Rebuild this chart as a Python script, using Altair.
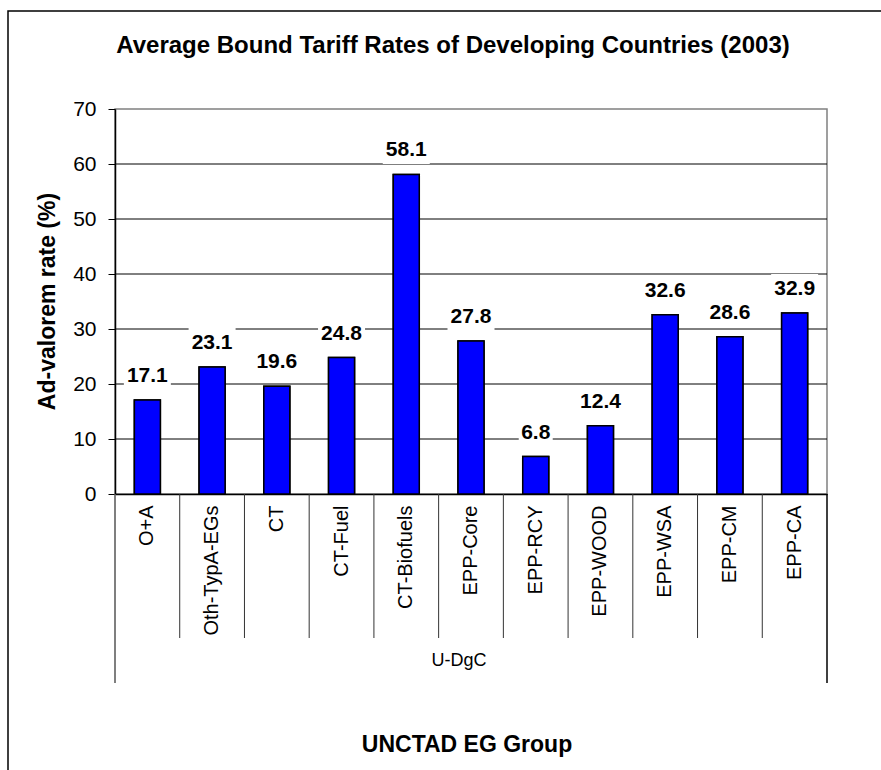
import altair as alt
import pandas as pd

# ---- data ----
categories = ["O+A", "Oth-TypA-EGs", "CT", "CT-Fuel", "CT-Biofuels", "EPP-Core",
              "EPP-RCY", "EPP-WOOD", "EPP-WSA", "EPP-CM", "EPP-CA"]
rates = [17.1, 23.1, 19.6, 24.8, 58.1, 27.8, 6.8, 12.4, 32.6, 28.6, 32.9]
group_label = ["U-DgC"]
y_ticks = [0, 10, 20, 30, 40, 50, 60, 70]
grid_values = [10, 20, 30, 40, 50, 60]

title_text = "Average Bound Tariff Rates of Developing Countries (2003)"
y_title = "Ad-valorem rate (%)"
x_title = "UNCTAD EG Group"

FONT = "Liberation Sans"
W, H = 712, 385
PAD_L, PAD_T = 115, 109

df = pd.DataFrame({"cat": categories, "rate": rates})
df["label"] = df["rate"].map(lambda v: f"{v:.1f}")
df["boxw"] = df["label"].str.len().map(lambda n: (n - 1) * 13 + 8)

yscale = alt.Scale(domain=[0, 70], nice=False, zero=True)
xscale = alt.Scale(domain=categories, paddingInner=0, paddingOuter=0)

x_axis = alt.Axis(labelAngle=270, labelAlign="right", labelBaseline="middle",
                  labelPadding=11, labelFontSize=20, labelFont=FONT, labelColor="black",
                  ticks=False, domainColor="black", domainWidth=1.5, title=None,
                  labelOverlap=False)
y_axis = alt.Axis(values=y_ticks, grid=False, tickSize=7, tickColor="black",
                  labelPadding=12, labelFontSize=21, labelFont=FONT, labelColor="black",
                  domainColor="black", domainWidth=1.5, title=None)

X = alt.X("cat:N", scale=xscale, axis=x_axis, sort=categories)

base = alt.Chart(df)

bars = base.mark_bar(color="#0000FF", stroke="black", strokeWidth=1.5, size=26).encode(
    x=X,
    y=alt.Y("rate:Q", scale=yscale, axis=y_axis),
)

grid = alt.Chart(pd.DataFrame({"v": grid_values})).mark_rule(color="black", strokeWidth=1).encode(
    y=alt.Y("v:Q", scale=yscale, axis=y_axis)
)

boxes = base.transform_calculate(
    lo="datum.rate + 1.9", hi="datum.rate + 7.1"
).mark_bar(color="white").encode(
    x=X,
    y=alt.Y("lo:Q", scale=yscale, axis=y_axis),
    y2="hi:Q",
    size=alt.Size("boxw:Q", scale=None, legend=None),
)

labels = base.mark_text(dy=-18, baseline="alphabetic", fontSize=21, fontWeight="bold",
                        font=FONT, color="black").encode(
    x=X,
    y=alt.Y("rate:Q", scale=yscale, axis=y_axis),
    text="label:N",
)

seps = alt.Chart(pd.DataFrame({"cat": categories[1:]})).mark_rule(color="#333333", strokeWidth=1).encode(
    x=alt.X("cat:N", scale=xscale, axis=x_axis, bandPosition=0, sort=categories),
    y=alt.value(H),
    y2=alt.value(H + 144),
)

edge_l = alt.Chart(pd.DataFrame({"a": [0]})).mark_rule(color="#555555", strokeWidth=1.5).encode(
    x=alt.value(0), y=alt.value(H), y2=alt.value(H + 189)
)
edge_r = alt.Chart(pd.DataFrame({"a": [0]})).mark_rule(color="black", strokeWidth=1.5).encode(
    x=alt.value(W), y=alt.value(H), y2=alt.value(H + 189)
)

grp = alt.Chart(pd.DataFrame({"g": group_label})).mark_text(
    fontSize=18, font=FONT, color="black", baseline="middle", align="center"
).encode(text="g:N", x=alt.value(W / 2 - 12), y=alt.value(H + 167))

ttl = alt.Chart(pd.DataFrame({"t": [title_text]})).mark_text(
    fontSize=24, fontWeight="bold", font=FONT, color="black", baseline="alphabetic", align="center"
).encode(text="t:N", x=alt.value(338), y=alt.value(-56))

ytl = alt.Chart(pd.DataFrame({"t": [y_title]})).mark_text(
    fontSize=23, fontWeight="bold", font=FONT, color="black", baseline="middle", align="center", angle=270
).encode(text="t:N", x=alt.value(-67), y=alt.value(H / 2))

xtl = alt.Chart(pd.DataFrame({"t": [x_title]})).mark_text(
    fontSize=23, fontWeight="bold", font=FONT, color="black", baseline="middle", align="center"
).encode(text="t:N", x=alt.value(W / 2 - 4), y=alt.value(H + 251))

border = alt.Chart(pd.DataFrame({"a": [0]})).mark_rect(fill=None, fillOpacity=0, stroke="black", strokeWidth=1.5).encode(
    x=alt.value(-107), y=alt.value(-98), x2=alt.value(W + 60), y2=alt.value(H + 300)
)

chart = alt.layer(bars, border, grid, boxes, bars, labels, seps, edge_l, edge_r, grp, ttl, ytl, xtl).properties(
    width=W, height=H,
    autosize=alt.AutoSizeParams(type="none"),
    padding={"left": PAD_L, "top": PAD_T, "right": 881 - PAD_L - W, "bottom": 770 - PAD_T - H},
    background="white",
).configure_view(stroke="#808080", strokeWidth=1.5)

chart.save("out.html", embed_options={"renderer": "svg", "actions": False})
